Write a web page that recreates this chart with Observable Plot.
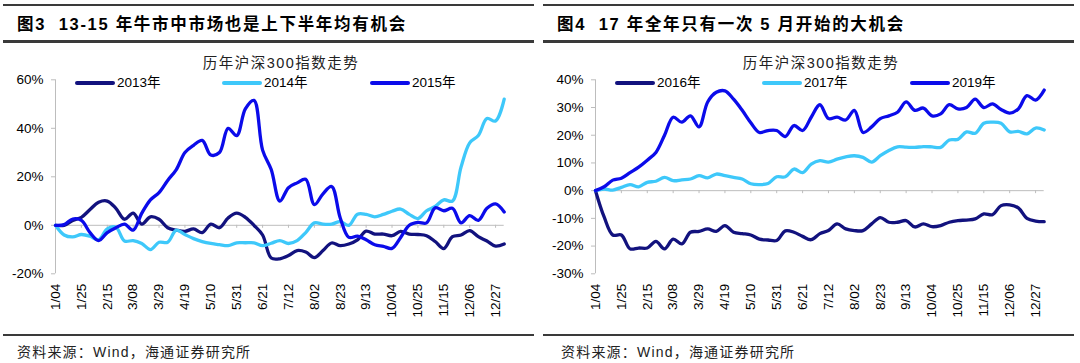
<!DOCTYPE html>
<html><head><meta charset="utf-8">
<script src="https://cdn.jsdelivr.net/npm/d3@7"></script>
<script src="https://cdn.jsdelivr.net/npm/@observablehq/plot@0.6"></script>
<style>
body{margin:0;background:#fff;}
#root{position:relative;width:1080px;height:363px;overflow:hidden;background:#fff;color:#000;font-family:"Liberation Sans",Arial,"Noto Sans CJK SC",sans-serif;}
.rule{position:absolute;background:#3a3a3a;}
.title{position:absolute;font-family:"Liberation Sans","Noto Sans CJK SC",sans-serif;font-weight:bold;font-size:16.5px;letter-spacing:1.7px;white-space:pre;line-height:18px;}
.sub{position:absolute;font-family:"Liberation Sans","Noto Sans CJK SC",sans-serif;font-size:14.5px;letter-spacing:1.5px;white-space:nowrap;line-height:16px;transform:translateX(-50%);color:#222;}
.src{position:absolute;font-family:"Liberation Sans","Noto Sans CJK SC",sans-serif;font-size:14px;letter-spacing:1.2px;white-space:nowrap;line-height:16px;color:#222;}
.lg{position:absolute;height:4px;border-radius:2px;}
.lgt{position:absolute;font-family:"Liberation Sans","Noto Sans CJK SC",sans-serif;font-size:13.5px;white-space:nowrap;line-height:16px;}
.chart{position:absolute;top:70px;}
</style>
</head><body><div id="root"></div>
<script>
// ---- data ----
const weeks = ["1/04","1/11","1/18","1/25","2/01","2/08","2/15","2/22","3/01","3/08","3/15","3/22","3/29","4/05","4/12","4/19","4/26","5/03","5/10","5/17","5/24","5/31","6/07","6/14","6/21","6/28","7/05","7/12","7/19","7/26","8/02","8/09","8/16","8/23","8/30","9/06","9/13","9/20","9/27","10/04","10/11","10/18","10/25","11/01","11/08","11/15","11/22","11/29","12/06","12/13","12/20","12/27","1/03"];
const tickWeeks = ["1/04","1/25","2/15","3/08","3/29","4/19","5/10","5/31","6/21","7/12","8/02","8/23","9/13","10/04","10/25","11/15","12/06","12/27"];

const leftNames = ["2013年","2014年","2015年"];
const rightNames = ["2016年","2017年","2019年"];
const leftTicks = [-20,0,20,40,60];
const rightTicks = [-30,-20,-10,0,10,20,30,40];

const s2013 = [0,0,2,3.3,6.5,9.5,10,7,2.5,5,0.5,3.5,2.5,-1,-2,-2.5,-1.5,-3,0.5,-1,3,5,3.3,0,-4,-13.5,-13.8,-12.5,-10.4,-11,-13.3,-10.4,-7.3,-8.4,-7.7,-6,-2.4,-3.6,-3.6,-4.3,-2.5,-3.6,-3.8,-4.3,-6.7,-9.6,-4.7,-4,-2.2,-4.7,-6.5,-8.6,-7.7];
const s2014 = [0,-4,-4.8,-3.8,-4.5,-6,-1.5,-0.8,-6.5,-6.3,-7.5,-10,-7,-7,-2,-3.8,-5.5,-6.7,-7.5,-8,-8.4,-7.2,-7.2,-7.2,-8.4,-7.4,-6.3,-7.5,-6.3,-3,1,0.5,0.5,1.5,0,4.6,4.5,3.5,4.5,5.8,6.7,4.5,2.8,6,7.8,10.5,10,24,34,37,44,43,52];
const s2015 = [0,0.3,2.6,2,-3,-6.3,-3,-1,0.5,-2,5,10.5,13.5,18.5,23,30,33,35,29,30,40,37,48,51.5,31,23,10,15.5,17.5,19,8.5,13,16,3,-5,-4.5,-6,-8,-8.7,-9.5,-5,0,1.2,1,7.2,6,7,1,4,2,7,8.8,5.5];

const s2016 = [0,-9.5,-16,-16,-21,-20.7,-20.7,-18.3,-21,-17.5,-19.2,-15,-14.7,-13.8,-14.7,-12.6,-15,-15.5,-16,-17.5,-17.8,-18,-14.5,-15,-16.5,-17.7,-15.5,-14.4,-12,-13.8,-14.4,-14.4,-12,-9.7,-11.4,-11.4,-10.8,-13.1,-12,-13,-12.6,-11.4,-10.8,-10.6,-10.2,-8.4,-8.7,-5.4,-5.1,-6.2,-10,-11,-11.2];
const s2017 = [0,0.6,0.2,1.2,2.2,1.4,3,3.4,4.8,3.6,3.9,4.2,5.4,4.6,6,5.4,4.8,4.2,2.5,2.2,2.6,5,5,7.8,6.5,9.6,10.8,10.3,11.4,12.2,12.6,12,10.3,12.6,14.5,15.8,15.7,15.6,15.9,15.8,15.6,18.3,18.5,21.2,20.7,24.3,24.7,24.3,21.2,21.4,20.5,22.6,21.9];
const s2019 = [0,1.4,3.8,4.5,6.5,8.5,11,13.8,20,26.5,24.7,27,23,32,35.5,36,33,29,24.5,21,21.7,21.7,19.5,23.5,21.7,26.5,31,26,26.5,25.5,29,21,23,26,27,28.3,32,29,29.8,27,27.7,31,29.5,30,33,30,31.3,29.3,28,29.5,34.3,32.7,36.3];

const palette = ["#12127e","#3ec8fa","#0b0bea"];
const titles = ["图3  13-15 年牛市中市场也是上下半年均有机会","图4  17 年全年只有一次 5 月开始的大机会"];
const subtitle = "历年沪深300指数走势";
const source = "资料来源：Wind，海通证券研究所";

// ---- layout helpers ----
const root = document.getElementById("root");
function el(cls, css, text){const d=document.createElement("div");d.className=cls;Object.assign(d.style,css);if(text!=null)d.textContent=text;root.appendChild(d);return d;}

const W = 540, H = 260, mT = 9.3, mB = 56.7, mL = 55, mR = 36.3;
const plotH = H - mT - mB;

function panel(ox, title, names, series, domain, ticks, srcDx){
  el("rule",{left:(ox+3)+"px",top:"4px",width:"531px",height:"2px"});
  el("title",{left:(ox+17)+"px",top:"15px"},title);
  el("rule",{left:(ox+3)+"px",top:"40px",width:"531px",height:"2.5px"});
  el("sub",{left:(ox+281)+"px",top:"55px"},subtitle);
  el("rule",{left:(ox+3)+"px",top:"334px",width:"531px",height:"2px"});
  el("src",{left:(ox+17+srcDx)+"px",top:"344px"},source);

  const data = series.flatMap((vals,k)=>vals.map((v,i)=>({week:weeks[i],value:v,name:names[k]})));
  const tickLen = 3*(domain[1]-domain[0])/plotH;
  const chart = Plot.plot({
    width: W, height: H,
    marginLeft: mL, marginRight: mR, marginTop: mT, marginBottom: mB,
    style: {fontFamily:'"Liberation Sans", Arial, sans-serif', fontSize:"13.5px", color:"#000", background:"transparent", overflow:"visible"},
    x: {type:"point", domain: weeks, padding: 0},
    y: {domain},
    color: {domain: names, range: palette},
    marks: [
      Plot.ruleX([weeks[0]], {stroke:"#bdbdbd"}),
      Plot.ruleY([0], {stroke:"#bdbdbd"}),
      Plot.ruleX(tickWeeks, {x:d=>d, y1:0, y2:-tickLen, stroke:"#bdbdbd"}),
      Plot.axisY({ticks, tickFormat:d=>d+"%", tickSize:4, tickPadding:8, stroke:"#bdbdbd", fill:"#000", label:null}),
      Plot.axisX({ticks: tickWeeks, tickRotate:-90, tickSize:0, tickPadding:10, fill:"#000", label:null}),
      Plot.line(data, {x:"week", y:"value", z:"name", stroke:"name", strokeWidth:3.3, curve:"catmull-rom"})
    ]
  });
  chart.classList.add("chart");
  chart.style.left = ox+"px";
  root.appendChild(chart);

  const legX = [75,222,370];
  names.forEach((n,k)=>{
    el("lg",{left:(ox+legX[k])+"px",top:"81px",width:"40px",background:palette[k]});
    el("lgt",{left:(ox+legX[k]+42)+"px",top:"75px"},n);
  });
}

panel(0, titles[0], leftNames, [s2013,s2014,s2015], [-20,60], leftTicks, 0);
panel(540, titles[1], rightNames, [s2016,s2017,s2019], [-30,40], rightTicks, 4);
</script>
</body></html>
